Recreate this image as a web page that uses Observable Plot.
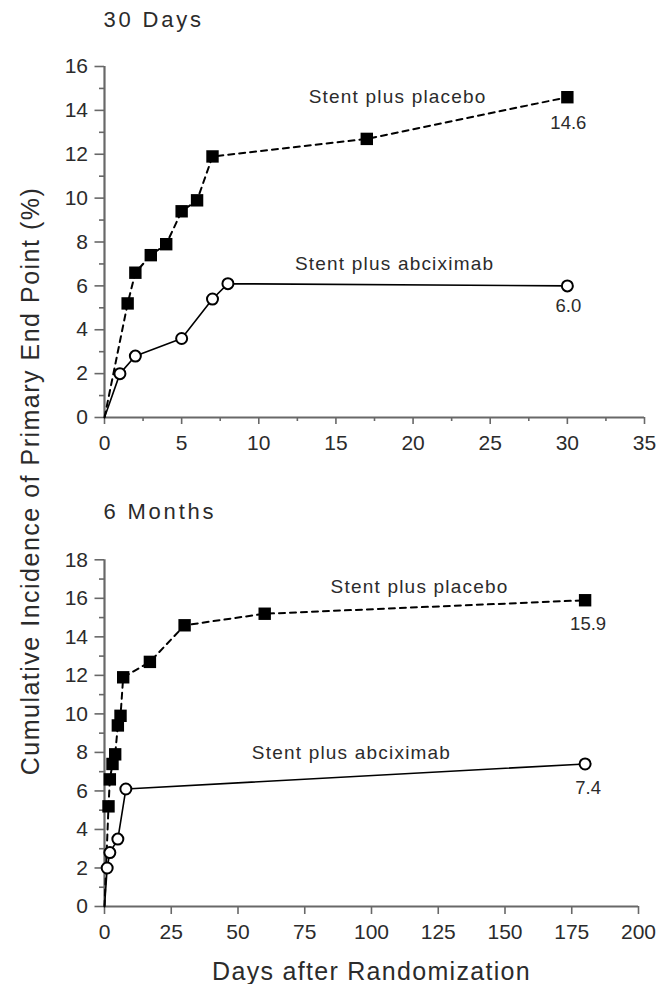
<!DOCTYPE html>
<html>
<head>
<meta charset="utf-8">
<script src="https://cdn.jsdelivr.net/npm/d3@7"></script>
<script src="https://cdn.jsdelivr.net/npm/@observablehq/plot@0.6"></script>
<style>
  body { margin: 0; background: #fff; }
  #wrap { position: relative; width: 660px; height: 984px; font-family: "Liberation Sans", Arial, Helvetica, sans-serif; color: #2b2b2b; }
  #top { position: absolute; left: 0; top: 0; }
  #bottom { position: absolute; left: 0; top: 460px; }
  #ylab { position: absolute; left: 30px; top: 481px; transform: translate(-50%, -50%) rotate(-90deg);
          white-space: nowrap; font-size: 25px; letter-spacing: 1.5px; line-height: 1; }
</style>
</head>
<body>
<div id="wrap">
  <div id="top"></div>
  <div id="bottom"></div>
  <div id="ylab"></div>
</div>
<script>
// ---- text ----
const panelTitles = ["30 Days", "6 Months"];
const yAxisLabel = "Cumulative Incidence of Primary End Point (%)";
const xAxisLabel = "Days after Randomization";
const seriesNames = ["Stent plus placebo", "Stent plus abciximab"];

// ---- 30-day panel data ----
const days30Placebo = [0, 1.5, 2, 3, 4, 5, 6, 7, 17, 30];
const pct30Placebo  = [0, 5.2, 6.6, 7.4, 7.9, 9.4, 9.9, 11.9, 12.7, 14.6];
const days30Abcix   = [0, 1, 2, 5, 7, 8, 30];
const pct30Abcix    = [0, 2.0, 2.8, 3.6, 5.4, 6.1, 6.0];

// ---- 6-month panel data ----
const days6mPlacebo = [0, 1.5, 2, 3, 4, 5, 6, 7, 17, 30, 60, 180];
const pct6mPlacebo  = [0, 5.2, 6.6, 7.4, 7.9, 9.4, 9.9, 11.9, 12.7, 14.6, 15.2, 15.9];
const days6mAbcix   = [0, 1, 2, 5, 8, 180];
const pct6mAbcix    = [0, 2.0, 2.8, 3.5, 6.1, 7.4];

// ---- ticks ----
const xTicks30 = [0, 5, 10, 15, 20, 25, 30, 35];
const xMinor30 = [2.5, 7.5, 12.5, 17.5, 22.5, 27.5, 32.5];
const yTicks30 = [0, 2, 4, 6, 8, 10, 12, 14, 16];
const yMinor30 = [1, 3, 5, 7, 9, 11, 13, 15];
const xTicks6m = [0, 25, 50, 75, 100, 125, 150, 175, 200];
const yTicks6m = [0, 2, 4, 6, 8, 10, 12, 14, 16, 18];
const yMinor6m = [1, 3, 5, 7, 9, 11, 13, 15, 17];

const FONT = "'Liberation Sans', Arial, Helvetica, sans-serif";
const AXIS = "#686868";
const TXT = "#2b2b2b";

const rows = (d, p) => d.map((day, i) => ({day, pct: p[i]}));

function panel(o) {
  const placebo = rows(o.dP, o.pP);
  const abcix = rows(o.dA, o.pA);
  const xMax = o.xTicks[o.xTicks.length - 1];
  const yMax = o.yTicks[o.yTicks.length - 1];
  const marks = [
    Plot.axisY({ticks: o.yMinor, tickSize: 5, text: null, stroke: AXIS, strokeWidth: 1.6, label: null}),
    Plot.axisY({ticks: o.yTicks, tickSize: 9.5, tickPadding: 7, stroke: AXIS, strokeWidth: 1.6, label: null, fill: TXT}),
    Plot.axisX({ticks: o.xTicks, tickSize: o.xTickSize, tickPadding: o.xTickPad, stroke: AXIS, strokeWidth: 1.6, label: null, fill: TXT})
  ];
  if (o.xMinor) marks.push(Plot.axisX({ticks: o.xMinor, tickSize: 4, text: null, stroke: AXIS, strokeWidth: 1.6, label: null}));
  marks.push(
    Plot.ruleX([0], {y1: 0, y2: yMax, stroke: AXIS, strokeWidth: 2.2}),
    Plot.ruleY([0], {x1: 0, x2: xMax, stroke: AXIS, strokeWidth: 2.2}),
    Plot.line(placebo, {x: "day", y: "pct", stroke: "#000", strokeWidth: 2, strokeDasharray: "6,5"}),
    Plot.line(abcix, {x: "day", y: "pct", stroke: "#000", strokeWidth: 1.6}),
    Plot.dot(placebo.filter(d => d.day > 0), {x: "day", y: "pct", symbol: "square", r: 7, fill: "#000", stroke: "none"}),
    Plot.dot(abcix.filter(d => d.day > 0), {x: "day", y: "pct", symbol: "circle", r: 5.5, fill: "#fff", stroke: "#000", strokeWidth: 2}),
    // series names
    Plot.text([seriesNames[0]], {x: o.lblP[0], y: o.lblP[1], text: d => d, fontSize: 19, fill: TXT, lineAnchor: "middle"}),
    Plot.text([seriesNames[1]], {x: o.lblA[0], y: o.lblA[1], text: d => d, fontSize: 19, fill: TXT, lineAnchor: "middle"}),
    // end values
    Plot.text([placebo[placebo.length - 1]], {x: "day", y: "pct", text: d => d.pct.toFixed(1), dy: o.dyP, dx: o.dxV, fontSize: 18.5, fill: TXT, lineAnchor: "middle"}),
    Plot.text([abcix[abcix.length - 1]], {x: "day", y: "pct", text: d => d.pct.toFixed(1), dy: o.dyA, dx: o.dxV, fontSize: 18.5, fill: TXT, lineAnchor: "middle"}),
    // panel title
    Plot.text([o.title], {frameAnchor: "top-left", text: d => d, dx: -1, dy: o.titleDy, textAnchor: "start", lineAnchor: "middle", fontSize: 22, fill: TXT})
  );
  if (o.xLabel) marks.push(Plot.text([o.xLabel], {frameAnchor: "bottom", text: d => d, dy: o.xLabelDy, lineAnchor: "middle", fontSize: 25, fill: TXT}));

  const svg = Plot.plot({
    width: 660, height: o.height,
    marginLeft: 104, marginRight: o.mr, marginTop: o.mt, marginBottom: o.mb,
    style: {fontFamily: FONT, fontSize: "21px", color: TXT, background: "white", overflow: "visible"},
    x: {domain: [0, xMax]},
    y: {domain: [0, yMax]},
    marks
  });
  d3.select(svg).selectAll("text").each(function () {
    const t = this.textContent;
    if (t === o.title) this.style.letterSpacing = "2.8px";
    else if (seriesNames.includes(t)) this.style.letterSpacing = "1.2px";
    else if (t === o.xLabel) this.style.letterSpacing = "1.3px";
  });
  return svg;
}

document.getElementById("ylab").textContent = yAxisLabel;

document.getElementById("top").appendChild(panel({
  title: panelTitles[0], height: 460, mt: 66, mb: 43, mr: 16,
  dP: days30Placebo, pP: pct30Placebo, dA: days30Abcix, pA: pct30Abcix,
  xTicks: xTicks30, xMinor: xMinor30, yTicks: yTicks30, yMinor: yMinor30,
  xTickSize: 7, xTickPad: 11,
  lblP: [19.0, 14.6], lblA: [18.8, 7.0],
  dyP: 26, dyA: 20, dxV: 1, titleDy: -46.5
}));

document.getElementById("bottom").appendChild(panel({
  title: panelTitles[1], height: 524, mt: 99.3, mb: 78, mr: 22,
  dP: days6mPlacebo, pP: pct6mPlacebo, dA: days6mAbcix, pA: pct6mAbcix,
  xTicks: xTicks6m, xMinor: null, yTicks: yTicks6m, yMinor: yMinor6m,
  xTickSize: 8, xTickPad: 10,
  lblP: [118, 16.6], lblA: [92.5, 7.95],
  dyP: 24, dyA: 24.5, dxV: 3, titleDy: -47.8,
  xLabel: xAxisLabel, xLabelDy: 65.7
}));
</script>
</body>
</html>
